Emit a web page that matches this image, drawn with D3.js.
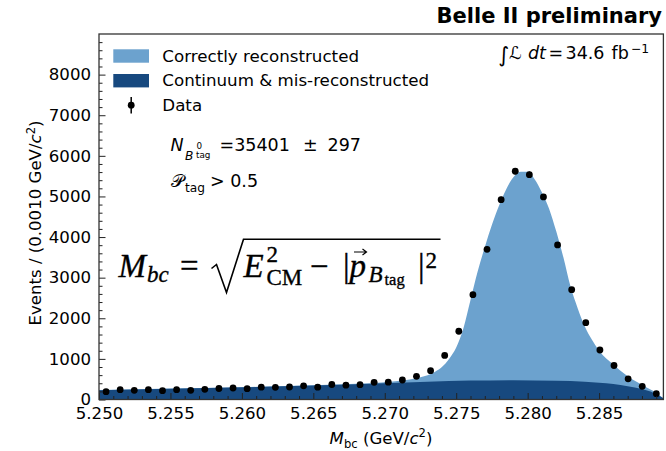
<!DOCTYPE html>
<html>
<head>
<meta charset="utf-8">
<script src="https://cdn.jsdelivr.net/npm/d3@7"></script>
<style>
  body { margin: 0; background: #fff; }
  svg { display: block; }
  text { font-family: "DejaVu Sans", sans-serif; fill: #000; }
  .serif { font-family: "Liberation Serif", "DejaVu Serif", serif; stroke: #000; stroke-width: 0.35px; }
</style>
</head>
<body>
<svg id="chart" width="666" height="451"></svg>
<script>
// Histogram binning of M_bc (GeV/c^2)
const massRange = [5.25, 5.2895];
const binCount = 40;

// Events per bin
const dataCounts = [192, 241, 227, 241, 217, 241, 225, 251, 271, 283,
                    266, 304, 300, 308, 336, 304, 369, 352, 366, 423,
                    427, 480, 570, 710, 1085, 1680, 2581, 3699, 4921, 5620,
                    5537, 4988, 3805, 2705, 1892, 1219, 837, 508, 325, 143];

// Total fit (correctly reconstructed + background), sampled along M_bc
const fitMass  = [5.2500, 5.2550, 5.2600, 5.2650, 5.2680, 5.2700, 5.2715, 5.2725, 5.2735, 5.2740,
                  5.2745, 5.2750, 5.2755, 5.2760, 5.2765, 5.2770, 5.2775, 5.2780, 5.2785, 5.2790,
                  5.2795, 5.2800, 5.2805, 5.2810, 5.2815, 5.2820, 5.2825, 5.2830, 5.2835, 5.2840,
                  5.2845, 5.2850, 5.2860, 5.2870, 5.2880, 5.2888, 5.2895];
const fitTotal = [232, 268, 303, 350, 385, 425, 482, 550, 680, 800,
                  1000, 1280, 1750, 2450, 3150, 3750, 4300, 4780, 5180, 5470,
                  5610, 5610, 5420, 5100, 4700, 4140, 3500, 2780, 2250, 1800,
                  1470, 1200, 860, 570, 360, 210, 30];

// Continuum & mis-reconstructed component
const bkgMass   = [5.2500, 5.2550, 5.2600, 5.2650, 5.2700, 5.2730, 5.2760, 5.2790, 5.2820, 5.2840,
                   5.2855, 5.2865, 5.2875, 5.2883, 5.2889, 5.2895];
const bkgValues = [228, 265, 300, 345, 400, 440, 465, 475, 462, 440,
                   400, 360, 295, 225, 150, 30];

const yTickValues = [0, 1000, 2000, 3000, 4000, 5000, 6000, 7000, 8000];
const xTickValues = [5.250, 5.255, 5.260, 5.265, 5.270, 5.275, 5.280, 5.285];
const legendLabels = ["Correctly reconstructed", "Continuum & mis-reconstructed", "Data"];

const colSignal = "#6ca2ce";
const colBkg = "#17497f";

const svg = d3.select("#chart");
const plot = { left: 99, top: 34, right: 663.4, bottom: 399.5 };

const x = d3.scaleLinear().domain(massRange).range([plot.left, plot.right]);
const y = d3.scaleLinear().domain([0, 9000]).range([plot.bottom, plot.top]);

const binWidth = (massRange[1] - massRange[0]) / binCount;
const points = dataCounts.map((n, i) => ({ m: massRange[0] + (i + 0.5) * binWidth, n }));

svg.append("clipPath").attr("id", "clip")
  .append("rect")
  .attr("x", plot.left).attr("y", plot.top)
  .attr("width", plot.right - plot.left).attr("height", plot.bottom - plot.top);

const g = svg.append("g").attr("clip-path", "url(#clip)");

const area = d3.area()
  .curve(d3.curveMonotoneX)
  .x(d => x(d.m))
  .y0(y(0))
  .y1(d => y(d.v));

g.append("path")
  .datum(fitMass.map((m, i) => ({ m, v: fitTotal[i] })))
  .attr("d", area)
  .attr("fill", colSignal);

g.append("path")
  .datum(bkgMass.map((m, i) => ({ m, v: bkgValues[i] })))
  .attr("d", area)
  .attr("fill", colBkg);

// Data with Poisson error bars
g.selectAll("line.err").data(points).join("line")
  .attr("class", "err")
  .attr("x1", d => x(d.m)).attr("x2", d => x(d.m))
  .attr("y1", d => y(d.n - Math.sqrt(d.n))).attr("y2", d => y(d.n + Math.sqrt(d.n)))
  .attr("stroke", "#000").attr("stroke-width", 1.5);

g.selectAll("circle.pt").data(points).join("circle")
  .attr("class", "pt")
  .attr("cx", d => x(d.m)).attr("cy", d => y(d.n))
  .attr("r", 3.4)
  .attr("fill", "#000");

// Axes with inward ticks
const tickFont = 16.6;
const yAxis = svg.append("g").attr("transform", `translate(${plot.left},0)`)
  .call(d3.axisLeft(y).tickValues(yTickValues).tickSize(-6.5).tickPadding(8).tickFormat(d3.format("d")));
const yMinor = svg.append("g").attr("transform", `translate(${plot.left},0)`)
  .call(d3.axisLeft(y).tickValues(y.ticks(45).filter(v => v % 1000 !== 0)).tickSize(-3.5).tickFormat(""));

const xAxis = svg.append("g").attr("transform", `translate(0,${plot.bottom})`)
  .call(d3.axisBottom(x).tickValues(xTickValues).tickSize(-6.5).tickPadding(7.5).tickFormat(d3.format(".3f")));
const xMinor = svg.append("g").attr("transform", `translate(0,${plot.bottom})`)
  .call(d3.axisBottom(x).tickValues(x.ticks(40).filter(v => Math.abs(v * 200 - Math.round(v * 200)) > 1e-6)).tickSize(-3.5).tickFormat(""));

[yAxis, yMinor, xAxis, xMinor].forEach(a => {
  a.select(".domain").remove();
  a.selectAll("line").attr("stroke", "#222").attr("stroke-width", 1);
  a.selectAll("text").style("font-family", "DejaVu Sans").style("font-size", tickFont + "px").attr("fill", "#222");
});

svg.append("rect")
  .attr("x", plot.left).attr("y", plot.top)
  .attr("width", plot.right - plot.left).attr("height", plot.bottom - plot.top)
  .attr("fill", "none").attr("stroke", "#333").attr("stroke-width", 1.3);

// Axis titles
const yTitle = svg.append("text")
  .attr("transform", "translate(41,223) rotate(-90)")
  .attr("text-anchor", "middle")
  .style("font-size", "16.6px").attr("fill", "#222");
yTitle.append("tspan").text("Events / (0.0010 GeV/");
yTitle.append("tspan").attr("font-style", "italic").text("c");
yTitle.append("tspan").attr("dy", -6.5).style("font-size", "11.6px").text("2");
yTitle.append("tspan").attr("dy", 6.5).text(")");

const xTitle = svg.append("text")
  .attr("x", 381).attr("y", 443.5)
  .attr("text-anchor", "middle")
  .style("font-size", "16.6px").attr("fill", "#222");
xTitle.append("tspan").attr("font-style", "italic").text("M");
xTitle.append("tspan").attr("dy", 4).style("font-size", "11.6px").text("bc");
xTitle.append("tspan").attr("dy", -4).text(" (GeV/");
xTitle.append("tspan").attr("font-style", "italic").text("c");
xTitle.append("tspan").attr("dy", -6.5).style("font-size", "11.6px").text("2");
xTitle.append("tspan").attr("dy", 6.5).text(")");

// Experiment label
svg.append("text")
  .attr("x", 662).attr("y", 23.3)
  .attr("text-anchor", "end")
  .style("font-size", "21px").style("font-weight", "bold")
  .text("Belle II preliminary");

// Integrated luminosity
const lumi = svg.append("g").attr("fill", "#000");
lumi.append("text").attr("x", 498.5).attr("y", 61.5).style("font-size", "21px").text("\u222B");
lumi.append("text").attr("x", 509).attr("y", 59.3).style("font-size", "17.5px").attr("font-style", "italic").text("\u2112");
lumi.append("text").attr("x", 528).attr("y", 59.3).style("font-size", "17.5px").attr("font-style", "italic").text("dt");
lumi.append("text").attr("x", 548.5).attr("y", 59.3).style("font-size", "17.5px").text("=");
lumi.append("text").attr("x", 565.5).attr("y", 59.3).style("font-size", "17.5px").text("34.6");
lumi.append("text").attr("x", 611.5).attr("y", 59.3).style("font-size", "17.5px").text("fb");
lumi.append("text").attr("x", 631).attr("y", 52.5).style("font-size", "12.3px").text("\u22121");

// Legend
const leg = svg.append("g");
leg.append("rect").attr("x", 113.3).attr("y", 49.3).attr("width", 35.7).attr("height", 13.4).attr("fill", colSignal);
leg.append("rect").attr("x", 113.3).attr("y", 74).attr("width", 35.7).attr("height", 13.4).attr("fill", colBkg);
leg.append("line").attr("x1", 131.2).attr("x2", 131.2).attr("y1", 97).attr("y2", 113.5).attr("stroke", "#000").attr("stroke-width", 1.5);
leg.append("circle").attr("cx", 131.2).attr("cy", 105.2).attr("r", 3.4).attr("fill", "#000");
leg.selectAll("text.lab").data(legendLabels).join("text")
  .attr("class", "lab")
  .attr("x", 162.3)
  .attr("y", (d, i) => 61.7 + i * 24.5)
  .style("font-size", "16.7px").attr("fill", "#222")
  .text(d => d);

// Signal yield and tag-quality cut
const yieldLine = svg.append("g");
yieldLine.append("text").attr("x", 170.5).attr("y", 150.7).style("font-size", "17.5px").attr("font-style", "italic").text("N");
yieldLine.append("text").attr("x", 185).attr("y", 159.6).style("font-size", "12.2px").attr("font-style", "italic").text("B");
yieldLine.append("text").attr("x", 196.5).attr("y", 148.5).style("font-size", "8.8px").text("0");
yieldLine.append("text").attr("x", 196).attr("y", 158.2).style("font-size", "8.8px").text("tag");
yieldLine.append("text").attr("x", 219.5).attr("y", 150.7).style("font-size", "17.5px").text("=35401");
yieldLine.append("text").attr("x", 303).attr("y", 150.7).style("font-size", "17.5px").text("\u00B1");
yieldLine.append("text").attr("x", 327.5).attr("y", 150.7).style("font-size", "17.5px").text("297");

const cutLine = svg.append("g");
cutLine.append("text").attr("x", 170.5).attr("y", 186.7).style("font-size", "17.5px").text("\uD835\uDCAB");
cutLine.append("text").attr("x", 185).attr("y", 191.5).style("font-size", "12.2px").text("tag");
cutLine.append("text").attr("x", 210).attr("y", 186.7).style("font-size", "17.5px").text("> 0.5");

// Beam-constrained mass definition
const f = svg.append("g").attr("class", "formula");
const ft = (xp, yp, size, str, italic) =>
  f.append("text").attr("class", "serif").attr("x", xp).attr("y", yp)
    .style("font-size", size + "px").attr("font-style", italic ? "italic" : "normal").text(str);
ft(118.5, 276.8, 33, "M", true);
ft(147, 281.8, 23, "bc", true);
ft(180, 276.8, 33, "=", false);
f.append("path")
  .attr("d", "M211.5,268.5 L216.5,264.5 L226.5,292.5 L243.5,239.2 L440.5,239.2")
  .attr("fill", "none").attr("stroke", "#000").attr("stroke-width", 1.6).attr("stroke-linejoin", "miter");
ft(243.5, 276.8, 33, "E", true);
ft(266.5, 261.8, 23, "2", false);
ft(266.5, 285, 23, "CM", false);
ft(310, 276.8, 33, "\u2212", false);
ft(343, 276.8, 33, "|", false);
ft(349.5, 276.8, 33, "p", true);
f.append("path").attr("d", "M354,252 L366,252 M362.5,249 L366.5,252 L362.5,255")
  .attr("fill", "none").attr("stroke", "#000").attr("stroke-width", 1.2);
ft(368.5, 281.8, 23, "B", true);
ft(384.5, 285.2, 16.5, "tag", false);
ft(418, 276.8, 33, "|", false);
ft(425.5, 268.3, 23, "2", false);
</script>
</body>
</html>
